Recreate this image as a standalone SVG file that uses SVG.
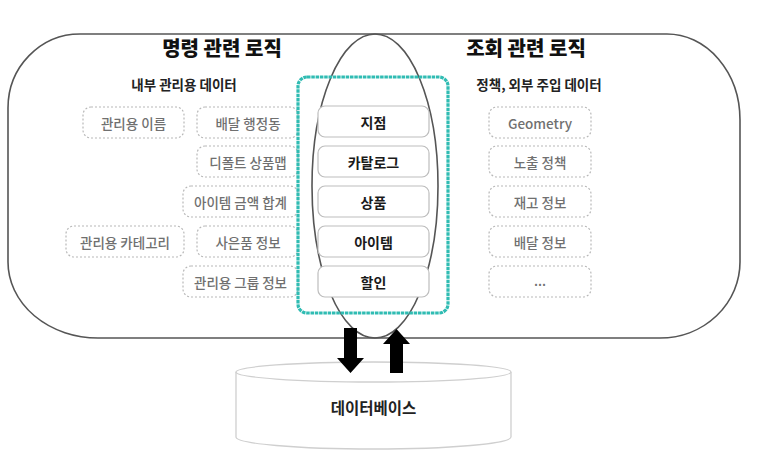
<svg xmlns="http://www.w3.org/2000/svg" width="780" height="474" viewBox="0 0 780 474">
<style>
  text { font-family: "Noto Sans CJK KR", "Noto Sans", sans-serif; text-anchor: middle; dominant-baseline: central; }
  .outline { fill: none; stroke: #555; stroke-width: 1.6; }
  .title { font-size: 20px; font-weight: 900; fill: #111; }
  .sub { font-size: 13.5px; font-weight: 700; fill: #222; }
  .dot { fill: #fff; stroke: #b8b8b8; stroke-width: 1.2; stroke-dasharray: 2 2; }
  .dtxt { font-size: 13.5px; font-weight: 500; fill: #707070; }
  .ent { fill: #fff; stroke: #bdbdbd; stroke-width: 1.2; }
  .etxt { font-size: 14px; font-weight: 700; fill: #1a1a1a; }
  .teal { fill: none; stroke: #30bcb3; stroke-width: 3.2; stroke-dasharray: 3.5 0.8; }
  .db { fill: #fff; stroke: #cfcfcf; stroke-width: 1.3; }
  .arrow { fill: #000; }
</style>
<rect width="780" height="474" fill="#fff"/>

<g id="command-logic">
  <path class="outline" d="M375 34 L80 34 A72 74 0 0 0 8 108 L8 262 A90 76 0 0 0 98 338 L375 338 A63 152 0 0 0 375 34 Z"/>
  <text class="title" x="222" y="47">명령 관련 로직</text>
  <text class="sub" x="184" y="84">내부 관리용 데이터</text>
</g>
<g id="query-logic">
  <path class="outline" d="M375 34 L667 34 A73 86 0 0 1 740 120 L740 262 A80 76 0 0 1 660 338 L375 338 A63 152 0 0 1 375 34 Z"/>
  <text class="title" x="526" y="47">조회 관련 로직</text>
  <text class="sub" x="539" y="84">정책, 외부 주입 데이터</text>
</g>

<g id="internal-data">
  <g id="admin-name"><rect class="dot" x="83" y="107" width="101" height="31" rx="8"/><text class="dtxt" x="133.5" y="122.5">관리용 이름</text></g>
  <g id="delivery-dong"><rect class="dot" x="197" y="107" width="101" height="31" rx="8"/><text class="dtxt" x="248" y="122.5">배달 행정동</text></g>
  <g id="default-map"><rect class="dot" x="197" y="146" width="101" height="31" rx="8"/><text class="dtxt" x="248" y="161.5">디폴트 상품맵</text></g>
  <g id="item-sum"><rect class="dot" x="183" y="186" width="115" height="31" rx="8"/><text class="dtxt" x="240.5" y="201.5">아이템 금액 합계</text></g>
  <g id="admin-category"><rect class="dot" x="66" y="226" width="118" height="31" rx="8"/><text class="dtxt" x="125" y="241.5">관리용 카테고리</text></g>
  <g id="gift-info"><rect class="dot" x="197" y="226" width="101" height="31" rx="8"/><text class="dtxt" x="248" y="241.5">사은품 정보</text></g>
  <g id="admin-group"><rect class="dot" x="183" y="266" width="115" height="31" rx="8"/><text class="dtxt" x="240.5" y="281.5">관리용 그룹 정보</text></g>
</g>

<g id="external-data">
  <g id="geometry"><rect class="dot" x="489" y="107" width="102" height="31" rx="8"/><text class="dtxt" x="540" y="122.5">Geometry</text></g>
  <g id="exposure-policy"><rect class="dot" x="489" y="146" width="102" height="31" rx="8"/><text class="dtxt" x="540" y="161.5">노출 정책</text></g>
  <g id="stock-info"><rect class="dot" x="489" y="186" width="102" height="31" rx="8"/><text class="dtxt" x="540" y="201.5">재고 정보</text></g>
  <g id="delivery-info"><rect class="dot" x="489" y="226" width="102" height="31" rx="8"/><text class="dtxt" x="540" y="241.5">배달 정보</text></g>
  <g id="more"><rect class="dot" x="489" y="266" width="102" height="31" rx="8"/><text class="dtxt" x="540" y="280">...</text></g>
</g>

<g id="shared-entities">
  <rect class="teal" x="298" y="77" width="150" height="236" rx="9"/>
  <g id="store"><rect class="ent" x="318" y="106" width="111" height="31" rx="7"/><text class="etxt" x="373.5" y="121.5">지점</text></g>
  <g id="catalog"><rect class="ent" x="318" y="146" width="111" height="31" rx="7"/><text class="etxt" x="373.5" y="161.5">카탈로그</text></g>
  <g id="product"><rect class="ent" x="318" y="186" width="111" height="31" rx="7"/><text class="etxt" x="373.5" y="201.5">상품</text></g>
  <g id="item"><rect class="ent" x="318" y="226" width="111" height="31" rx="7"/><text class="etxt" x="373.5" y="241.5">아이템</text></g>
  <g id="discount"><rect class="ent" x="318" y="266" width="111" height="31" rx="7"/><text class="etxt" x="373.5" y="281.5">할인</text></g>
</g>

<g id="database">
  <path class="db" d="M236 372 L236 437 A137.5 12 0 0 0 511 437 L511 372"/>
  <ellipse class="db" cx="373.5" cy="372" rx="137.5" ry="10"/>
  <text x="373.5" y="407" style="font-size:15.5px;font-weight:700;fill:#222">데이터베이스</text>
</g>

<g id="connectors">
  <polygon class="arrow" points="344,328 357,328 357,358 364,358 350.5,373 337,358 344,358"/>
  <polygon class="arrow" points="396.5,329 410,344 403,344 403,373 390,373 390,344 383,344"/>
</g>
</svg>
